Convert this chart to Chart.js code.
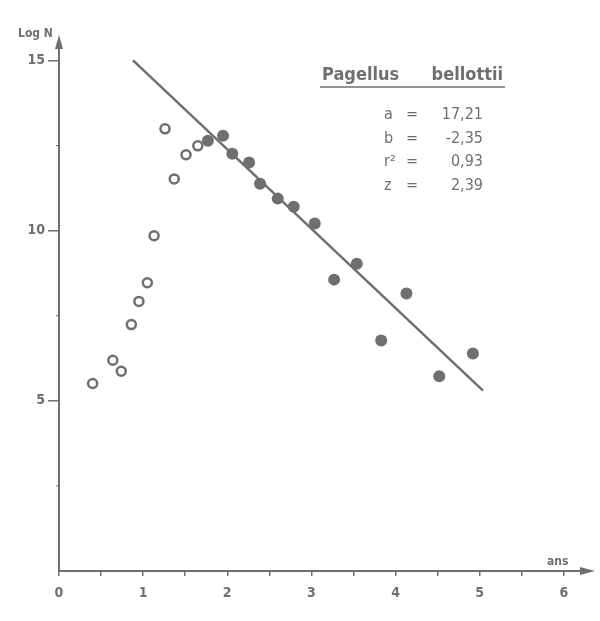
<!DOCTYPE html>
<html>
<head>
<meta charset="utf-8">
<script src="https://cdn.jsdelivr.net/npm/chart.js@4.4.0/dist/chart.umd.min.js"></script>
<style>
  html, body { margin: 0; padding: 0; background: #fff; }
  #wrap { width: 600px; height: 621px; }
</style>
</head>
<body>
<div id="wrap"><canvas id="chart" width="600" height="621"></canvas></div>
<script>
// ------------------ DATA -------------------//
// open circles (ascending part, not in the fit)
const openAge  = [0.40, 0.64, 0.74, 0.86, 0.95, 1.05, 1.13, 1.26, 1.37, 1.51, 1.65];
const openLogN = [5.51, 6.19, 5.87, 7.24, 7.92, 8.47, 9.85, 12.99, 11.52, 12.23, 12.49];

// filled circles (used for the regression)
const filledAge  = [1.77, 1.95, 2.06, 2.26, 2.39, 2.60, 2.79, 3.04, 3.27, 3.54, 3.83, 4.13, 4.52, 4.92];
const filledLogN = [12.64, 12.79, 12.26, 12.00, 11.38, 10.94, 10.70, 10.21, 8.56, 9.03, 6.77, 8.15, 5.72, 6.39];

// regression line end points
const lineAge  = [0.88, 5.04];
const lineLogN = [15.0, 5.3];

const xTickLabels = [0, 1, 2, 3, 4, 5, 6];
const yTickLabels = [5, 10, 15];
const yMinorTicks = [2.5, 7.5, 12.5];

const speciesName = ["Pagellus", "bellottii"];
const paramNames  = ["a", "b", "r\u00b2", "z"];
const paramValues = ["17,21", "-2,35", "0,93", "2,39"];

const INK = '#6f6f6f';

// ------------------ Annotations -------------------//
const annotations = {
    id: 'annotations',
    afterDraw(chart) {
        const ctx = chart.ctx;
        const y = chart.scales.y;
        const area = chart.chartArea;
        ctx.save();
        ctx.fillStyle = INK;
        ctx.strokeStyle = INK;

        // tiny minor ticks on the y axis
        ctx.lineWidth = 1;
        yMinorTicks.forEach(v => {
            const py = y.getPixelForValue(v);
            ctx.beginPath();
            ctx.moveTo(area.left - 3, py);
            ctx.lineTo(area.left, py);
            ctx.stroke();
        });

        // arrow heads
        ctx.beginPath();
        ctx.moveTo(area.left, area.top - 5);
        ctx.lineTo(area.left - 4, area.top + 9);
        ctx.lineTo(area.left + 4, area.top + 9);
        ctx.closePath();
        ctx.fill();
        ctx.beginPath();
        ctx.moveTo(area.right + 6, area.bottom);
        ctx.lineTo(area.right - 9, area.bottom - 4);
        ctx.lineTo(area.right - 9, area.bottom + 4);
        ctx.closePath();
        ctx.fill();

        // axis titles
        ctx.font = 'bold 12px "DejaVu Sans Condensed"';
        ctx.textBaseline = 'middle';
        ctx.textAlign = 'left';
        ctx.fillText('Log N', 18, 34);
        ctx.fillText('ans', 547, 562);

        // species name, underlined
        ctx.font = 'bold 18px "DejaVu Sans Condensed"';
        ctx.textAlign = 'left';
        ctx.fillText(speciesName[0], 322, 75);
        ctx.textAlign = 'right';
        ctx.fillText(speciesName[1], 503, 75);
        ctx.lineWidth = 1.5;
        ctx.beginPath();
        ctx.moveTo(320, 87);
        ctx.lineTo(505, 87);
        ctx.stroke();

        // regression parameters
        ctx.font = '16px "DejaVu Sans Condensed"';
        paramNames.forEach((name, i) => {
            const py = 115 + i * 23.5;
            ctx.textAlign = 'left';
            ctx.fillText(name, 384, py);
            ctx.fillText('=', 406, py);
            ctx.textAlign = 'right';
            ctx.fillText(paramValues[i], 483, py);
        });
        ctx.restore();
    }
};

// ------------------ Scatter chart -------------------//
const chartCanvas = document.getElementById('chart');
const chart = new Chart(chartCanvas, {
    type: 'scatter',
    data: {
        datasets: [{
            label: 'fit',
            type: 'line',
            data: lineAge.map((v, i) => ({ x: v, y: lineLogN[i] })),
            borderColor: INK,
            borderWidth: 2.5,
            pointRadius: 0,
            fill: false
        }, {
            label: 'open',
            data: openAge.map((v, i) => ({ x: v, y: openLogN[i] })),
            pointRadius: 4.5,
            pointBorderWidth: 2.5,
            pointBorderColor: INK,
            pointBackgroundColor: '#fff'
        }, {
            label: 'filled',
            data: filledAge.map((v, i) => ({ x: v, y: filledLogN[i] })),
            pointRadius: 6,
            pointBorderWidth: 0,
            pointBackgroundColor: INK
        }]
    },
    options: {
        responsive: false,
        animation: { duration: 0 },
        layout: { padding: { top: 40, right: 11, left: 0, bottom: 0 } },
        plugins: {
            legend: { display: false },
            tooltip: { enabled: false }
        },
        scales: {
            x: {
                type: 'linear',
                min: 0,
                max: 6.3,
                afterFit(scale) { scale.height = 50; },
                border: { display: true, color: INK, width: 2 },
                grid: { drawOnChartArea: false, color: INK, tickLength: 5, lineWidth: 1.5 },
                ticks: {
                    stepSize: 0.5,
                    includeBounds: false,
                    color: INK,
                    padding: 9,
                    maxRotation: 0,
                    autoSkip: false,
                    font: { family: 'DejaVu Sans Condensed', size: 14, weight: 'bold' },
                    callback: v => xTickLabels.includes(v) ? String(v) : ''
                }
            },
            y: {
                type: 'linear',
                min: 0,
                max: 15.6,
                afterFit(scale) { scale.width = 59; },
                border: { display: true, color: INK, width: 2 },
                grid: {
                    drawOnChartArea: false,
                    tickLength: 11,
                    lineWidth: 1.5,
                    tickColor: c => (c.tick && c.tick.value === 0) ? 'rgba(0,0,0,0)' : INK
                },
                ticks: {
                    stepSize: 5,
                    includeBounds: false,
                    color: INK,
                    padding: 3,
                    autoSkip: false,
                    font: { family: 'DejaVu Sans Condensed', size: 14, weight: 'bold' },
                    callback: v => yTickLabels.includes(v) ? String(v) : ''
                }
            }
        }
    },
    plugins: [annotations]
});
</script>
</body>
</html>
